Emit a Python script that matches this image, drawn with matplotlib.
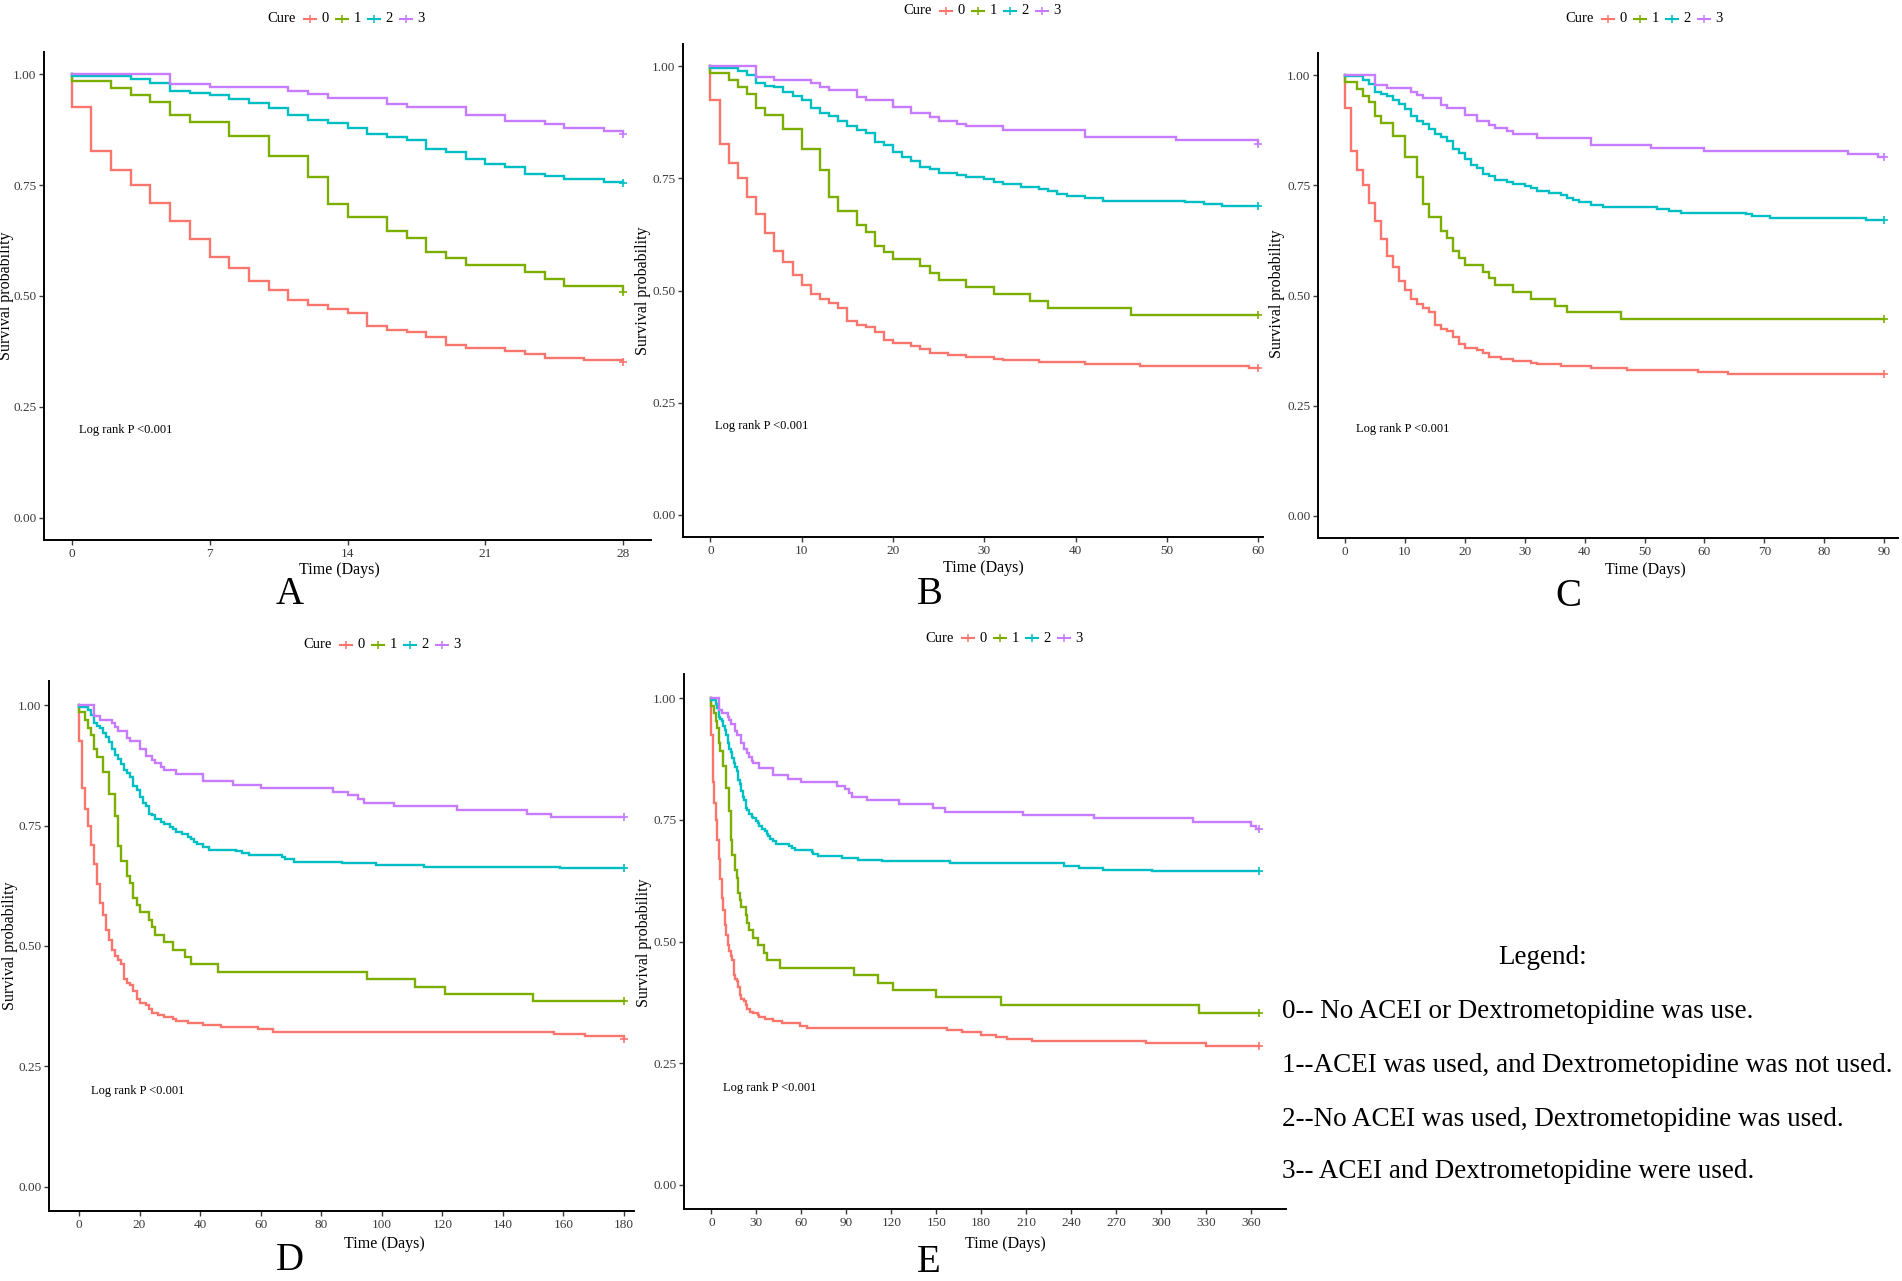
import matplotlib
matplotlib.use("Agg")
import matplotlib.pyplot as plt
from matplotlib.lines import Line2D
import numpy as np

plt.rcParams['font.family'] = ['Liberation Serif', 'DejaVu Serif']

# ---------------- data (Kaplan-Meier step curves, one per treatment group) ----
groups = ["0", "1", "2", "3"]
colors = ["#F8766D", "#7CAE00", "#00BFC4", "#C77CFF"]

t0 = [0, 0, 1, 2, 3, 4, 5, 6, 7, 8, 9, 10, 11, 12, 13, 14, 15, 16, 17, 18, 19, 20,
      22, 23, 24, 26, 28, 31, 32, 36, 41, 47, 59, 64, 157, 167, 180, 190, 197, 214, 290, 330]
s0 = [1.0, 0.925, 0.827, 0.784, 0.750, 0.709, 0.670, 0.628, 0.589, 0.564, 0.534, 0.513,
      0.492, 0.480, 0.471, 0.462, 0.432, 0.423, 0.419, 0.407, 0.390, 0.382, 0.377, 0.369,
      0.361, 0.356, 0.352, 0.348, 0.344, 0.340, 0.336, 0.332, 0.327, 0.322, 0.318, 0.313,
      0.308, 0.303, 0.300, 0.295, 0.291, 0.286]

t1 = [0, 0, 2, 3, 4, 5, 6, 8, 10, 12, 13, 14, 16, 17, 18, 19, 20, 23, 24, 25, 28, 31,
      35, 37, 46, 95, 111, 121, 150, 193, 325]
s1 = [1.0, 0.985, 0.969, 0.953, 0.938, 0.908, 0.892, 0.861, 0.815, 0.769, 0.708, 0.677,
      0.646, 0.631, 0.600, 0.585, 0.570, 0.554, 0.539, 0.523, 0.508, 0.492, 0.477, 0.462,
      0.446, 0.431, 0.415, 0.400, 0.385, 0.369, 0.354]

t2 = [0, 0, 3, 4, 5, 6, 7, 8, 9, 10, 11, 12, 13, 14, 15, 16, 17, 18, 19, 20, 21, 22, 23,
      24, 25, 27, 28, 30, 31, 32, 34, 36, 37, 38, 39, 41, 43, 52, 54, 56, 67, 68, 71, 87,
      98, 114, 159, 235, 245, 261, 294]
s2 = [1.0, 0.997, 0.989, 0.980, 0.962, 0.957, 0.953, 0.943, 0.934, 0.924, 0.908, 0.896,
      0.889, 0.878, 0.866, 0.859, 0.851, 0.832, 0.824, 0.809, 0.797, 0.790, 0.775, 0.771,
      0.763, 0.757, 0.754, 0.748, 0.743, 0.737, 0.732, 0.727, 0.722, 0.716, 0.711, 0.706,
      0.700, 0.697, 0.692, 0.688, 0.684, 0.680, 0.675, 0.672, 0.668, 0.665, 0.661, 0.656,
      0.652, 0.648, 0.644]

t3 = [0, 5, 7, 11, 12, 13, 16, 17, 20, 22, 24, 25, 27, 28, 32, 41, 51, 60, 84, 89, 92,
      94, 104, 125, 148, 156, 208, 255, 321, 360, 363]
s3 = [1.0, 0.977, 0.970, 0.962, 0.955, 0.947, 0.932, 0.925, 0.909, 0.895, 0.887, 0.879,
      0.872, 0.866, 0.857, 0.842, 0.835, 0.827, 0.820, 0.813, 0.805, 0.797, 0.791, 0.782,
      0.774, 0.767, 0.760, 0.753, 0.745, 0.738, 0.731]

curve_times = [t0, t1, t2, t3]
curve_surv = [s0, s1, s2, s3]

panel_names = ["A", "B", "C", "D", "E"]
panel_tmax = [28, 60, 90, 180, 365]
panel_xticks = [list(range(0, 29, 7)), list(range(0, 61, 10)), list(range(0, 91, 10)),
                list(range(0, 181, 20)), list(range(0, 361, 30))]
y_ticks = [0.00, 0.25, 0.50, 0.75, 1.00]
pval_text = "Log rank P <0.001"
legend_lines = ["0-- No ACEI or Dextrometopidine was use.",
                "1--ACEI was used, and Dextrometopidine was not used.",
                "2--No ACEI was used, Dextrometopidine was used.",
                "3-- ACEI and Dextrometopidine were used."]

# ---------------- layout (pixels) ----------------
W, H = 1902, 1281
fig = plt.figure(figsize=(W / 100, H / 100), dpi=100)
fig.patch.set_facecolor("white")


def fx(px):
    return px / W


def fy(py):
    return 1 - py / H


# left, top, right, bottom of axes box in px, and visible x-limits
boxes = [(44, 52, 651, 540), (683, 44, 1263, 537), (1318, 53, 1898, 538),
         (49, 681, 634, 1211), (684, 674, 1286, 1209)]
xlims = [(-1.4, 29.4), (-3.0, 60.5), (-4.5, 92.3), (-9.9, 183.3), (-18.25, 383.25)]
legend_pos = [(347, 19), (983, 11), (1645, 19), (383, 645), (1005, 638)]
letter_pos = [(290, 594), (930, 594), (1568, 596), (290, 1260), (929, 1263)]
xlabel_pos = [(339, 570), (983, 568), (1645, 570), (384, 1244), (1005, 1244)]
ylabel_pos = [(6, 296), (643, 291), (1277, 294), (10, 946), (644, 943)]
pval_pos = [(126, 430), (762, 426), (1403, 429), (138, 1091), (770, 1088)]

tick_col = "#3a3a3a"

for k in range(5):
    l, t, r, b = boxes[k]
    ax = fig.add_axes([fx(l), fy(b), (r - l) / W, (b - t) / H])
    tmax = panel_tmax[k]
    for g in range(4):
        tt = np.array(curve_times[g], dtype=float)
        ss = np.array(curve_surv[g], dtype=float)
        m = tt <= tmax
        tt = np.append(tt[m], tmax)
        ss = np.append(ss[m], ss[m][-1])
        ax.step(tt, ss, where="post", color=colors[g], lw=1.7, solid_joinstyle="miter")
        ax.plot([tmax], [ss[-1]], marker="+", color=colors[g], ms=6, mew=1.2)
    ax.set_xlim(*xlims[k])
    ax.set_ylim(-0.05, 1.05)
    ax.set_xticks(panel_xticks[k])
    ax.set_yticks(y_ticks)
    ax.set_yticklabels([f"{v:.2f}" for v in y_ticks])
    for s in ["top", "right"]:
        ax.spines[s].set_visible(False)
    for s in ["left", "bottom"]:
        ax.spines[s].set_linewidth(1.4)
        ax.spines[s].set_color("black")
    ax.tick_params(axis="both", direction="out", length=3.5, width=1, color=tick_col,
                   labelsize=9.5, labelcolor=tick_col, pad=2)
    ax.patch.set_alpha(0)

    # texts
    fig.text(fx(xlabel_pos[k][0]), fy(xlabel_pos[k][1]), "Time (Days)", ha="center",
             va="center", fontsize=11.5)
    fig.text(fx(ylabel_pos[k][0]), fy(ylabel_pos[k][1]), "Survival probability",
             ha="center", va="center", rotation=90, fontsize=11.5)
    fig.text(fx(pval_pos[k][0]), fy(pval_pos[k][1]), pval_text, ha="center",
             va="center", fontsize=9)
    fig.text(fx(letter_pos[k][0]), fy(letter_pos[k][1]), panel_names[k], ha="center",
             va="center", fontsize=28)

    # legend "Cure  -+- 0  -+- 1 ..."
    cx, cy = legend_pos[k]
    x0 = cx - 80
    fig.text(fx(x0), fy(cy), "Cure", ha="left", va="center", fontsize=10.5)
    for g in range(4):
        kx = x0 + 37 + 32 * g
        fig.add_artist(Line2D([fx(kx), fx(kx + 12)], [fy(cy), fy(cy)],
                              color=colors[g], lw=1.5, transform=fig.transFigure))
        fig.add_artist(Line2D([fx(kx + 6)], [fy(cy)], marker="+", ms=6, mew=1.1,
                              color=colors[g], transform=fig.transFigure))
        fig.text(fx(kx + 21), fy(cy), groups[g], ha="center", va="center", fontsize=10.5)

# text legend at lower right
fig.text(fx(1543), fy(957), "Legend:", ha="center", va="center", fontsize=19.5)
for i, line in enumerate(legend_lines):
    fig.text(fx(1282), fy([1012, 1066, 1119, 1172][i]), line, ha="left", va="center",
             fontsize=19.5)

fig.savefig("out.png", dpi=100, facecolor="white")
